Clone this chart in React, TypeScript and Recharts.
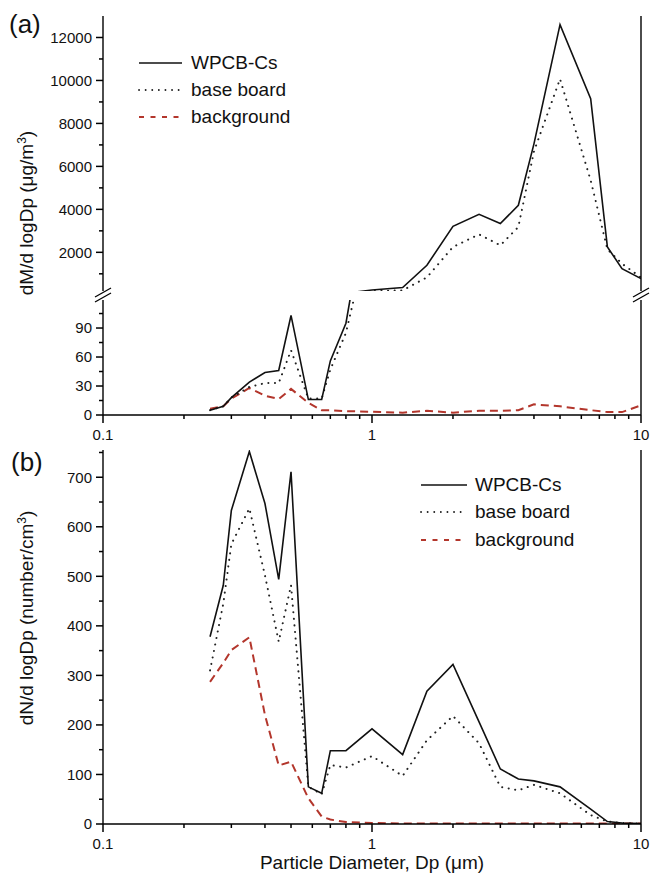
import { Legend, Line, LineChart, XAxis, YAxis } from 'recharts'

// Grimm OPC size channels (µm)
const diameters = [0.25, 0.28, 0.3, 0.35, 0.4, 0.45, 0.5, 0.58, 0.65, 0.7, 0.8, 1.0, 1.3, 1.6, 2.0, 2.5, 3.0, 3.5, 4.0, 5.0, 6.5, 7.5, 8.5, 10]

// (a) mass distribution, dM/dlogDp (µg/m3)
const massWpcb = [5, 9, 18, 34, 44, 46, 103, 16, 16, 56, 95, 250, 360, 1400, 3210, 3770, 3340, 4190, 7050, 12600, 9150, 2250, 1240, 780]
const massBase = [5, 9, 18, 29, 33, 33, 67, 17, 17, 47, 85, 200, 230, 835, 2250, 2835, 2325, 3180, 6700, 10070, 5350, 2140, 1470, 830]
const massBackground = [6.5, 9, 17, 28, 20, 16.5, 27, 12.5, 5, 5, 4, 3.4, 2.4, 4.4, 2.4, 4.4, 4.4, 5, 11, 9, 5, 3, 3, 10]

// (b) number distribution, dN/dlogDp (number/cm3)
const numWpcb = [378, 482, 633, 752, 647, 494, 711, 75, 62, 148, 148, 192, 140, 268, 322, 206, 111, 91, 87, 75, 30, 5, 2, 1]
const numBase = [310, 445, 565, 637, 502, 368, 482, 75, 60, 119, 114, 137, 97, 169, 218, 163, 75, 68, 79, 62, 18, 5, 2, 1]
const numBackground = [287, 325, 351, 377, 220, 118, 126, 52, 15, 9, 4, 2, 1, 1, 1, 1, 1, 1, 1, 1, 1, 1, 1, 1]

const xMajor = [0.1, 1, 10]
const xMinor = [0.2, 0.3, 0.4, 0.5, 0.6, 0.7, 0.8, 0.9, 2, 3, 4, 5, 6, 7, 8, 9]
const massUpperMajor = [2000, 4000, 6000, 8000, 10000, 12000]
const massUpperMinor = [1000, 3000, 5000, 7000, 9000, 11000]
const massLowerMajor = [0, 30, 60, 90]
const massLowerMinor = [15, 45, 75, 105]
const numMajor = [0, 100, 200, 300, 400, 500, 600, 700]
const numMinor = [50, 150, 250, 350, 450, 550, 650, 750]

const FONT = "'Liberation Sans', Arial, Helvetica, sans-serif"
const INK = '#000'
const axisLine = { stroke: INK, strokeWidth: 1.4 }
const tickText = { fontSize: 15, fill: '#111', fontFamily: FONT }

// plot geometry (page px) shared by the charts and the tick-mark overlay
const PLOT_L = 103
const PLOT_R = 641
const X_DOMAIN: [number, number] = [0.1, 10]
const segUpper = { top: 16, bottom: 291, domain: [200, 13000] as [number, number] }
const segLower = { top: 300, bottom: 415, domain: [0, 119] as [number, number] }
const segNum = { top: 450, bottom: 824, domain: [0, 755] as [number, number] }

const series = [
  { key: 'wpcb', name: 'WPCB-Cs', stroke: '#111', width: 1.6, dash: undefined as string | undefined, cap: 'butt' as const },
  { key: 'base', name: 'base board', stroke: '#222', width: 2, dash: '0.1 6.5', cap: 'round' as const },
  { key: 'bg', name: 'background', stroke: '#b3362c', width: 2, dash: '8 5', cap: 'butt' as const },
]

const massData = diameters.map((d, i) => ({ d, wpcb: massWpcb[i], base: massBase[i], bg: massBackground[i] }))
const numData = diameters.map((d, i) => ({ d, wpcb: numWpcb[i], base: numBase[i], bg: numBackground[i] }))

const tickX = (v: number) =>
  PLOT_L + ((Math.log10(v) - Math.log10(X_DOMAIN[0])) / (Math.log10(X_DOMAIN[1]) - Math.log10(X_DOMAIN[0]))) * (PLOT_R - PLOT_L)
const tickY = (v: number, s: { top: number; bottom: number; domain: [number, number] }) =>
  s.top + ((s.domain[1] - v) / (s.domain[1] - s.domain[0])) * (s.bottom - s.top)

function LegendBox({ sample, gap, row }: { sample: number; gap: number; row: number }) {
  return (
    <div style={{ fontFamily: FONT, fontSize: 19, color: '#111' }}>
      {series.map((s) => (
        <div key={s.key} style={{ display: 'flex', alignItems: 'center', height: row, whiteSpace: 'nowrap' }}>
          <svg width={sample} height={10} style={{ marginRight: gap }}>
            <line x1={1} y1={5} x2={sample - 1} y2={5} stroke={s.stroke} strokeWidth={s.key === 'wpcb' ? 1.4 : 1.8} strokeDasharray={s.key === 'bg' ? '5 6.5' : s.dash} strokeLinecap={s.cap} />
          </svg>
          <span>{s.name}</span>
        </div>
      ))}
    </div>
  )
}

function seriesLines() {
  return [...series].reverse().map((s) => (
    <Line
      key={s.key}
      xAxisId="main"
      yAxisId="main"
      type="linear"
      dataKey={s.key}
      name={s.name}
      stroke={s.stroke}
      strokeWidth={s.width}
      strokeDasharray={s.dash}
      strokeLinecap={s.cap}
      dot={false}
      activeDot={false}
      isAnimationActive={false}
    />
  ))
}

function ValueAxes(domain: [number, number], major: number[]) {
  return [
    <YAxis key="yM" yAxisId="main" type="number" domain={domain} allowDataOverflow ticks={major} interval={0} width={PLOT_L} stroke={INK} tickSize={7} tickMargin={4} tick={tickText} tickLine={false} axisLine={axisLine} />,
    <YAxis key="yr" yAxisId="r" orientation="right" domain={[0, 1]} width={1} stroke={INK} tick={false} tickLine={false} axisLine={axisLine} />,
  ]
}

function SizeAxis(height: number) {
  return (
    <XAxis xAxisId="main" dataKey="d" type="number" scale="log" domain={X_DOMAIN} allowDataOverflow ticks={xMajor} interval={0} height={height} stroke={INK} tickSize={8} tickMargin={6} tick={tickText} tickLine={false} axisLine={axisLine} />
  )
}

function TickMarks() {
  const y = (seg: typeof segUpper, vals: number[], len: number) =>
    vals.map((v) => {
      const py = tickY(v, seg)
      return <line key={`${seg.top}-${v}`} x1={PLOT_L - len} x2={PLOT_L} y1={py} y2={py} />
    })
  const x = (base: number, vals: number[], len: number) =>
    vals.map((v) => {
      const px = tickX(v)
      return <line key={`${base}-${v}`} x1={px} x2={px} y1={base} y2={base + len} />
    })
  return (
    <g stroke={INK} strokeWidth={1.5}>
      {y(segUpper, massUpperMajor, 7)}
      {y(segUpper, massUpperMinor, 4)}
      {y(segLower, massLowerMajor, 7)}
      {y(segLower, massLowerMinor, 4)}
      {y(segNum, numMajor, 7)}
      {y(segNum, numMinor, 4)}
      {x(segLower.bottom, xMajor, 8)}
      {x(segLower.bottom, xMinor, 4)}
      {x(segNum.bottom, xMajor, 8)}
      {x(segNum.bottom, xMinor, 4)}
    </g>
  )
}

export default function App() {
  return (
    <div style={{ position: 'absolute', left: 0, top: 0, width: 650, height: 875, background: '#fff', overflow: 'hidden' }}>
      {/* (a) upper segment of the broken axis */}
      <div style={{ position: 'absolute', left: 0, top: 0 }}>
        <LineChart width={650} height={segUpper.bottom} data={massData} margin={{ top: segUpper.top, right: 650 - PLOT_R - 1, bottom: 0, left: 0 }}>
          <XAxis xAxisId="main" dataKey="d" type="number" scale="log" domain={X_DOMAIN} allowDataOverflow hide />
          <XAxis xAxisId="top" orientation="top" type="number" scale="log" domain={X_DOMAIN} allowDataOverflow height={0} stroke={INK} tick={false} tickLine={false} axisLine={axisLine} />
          {ValueAxes(segUpper.domain, massUpperMajor)}
          {seriesLines()}
          <Legend
            layout="vertical"
            align="center"
            verticalAlign="middle"
            content={() => <LegendBox sample={45} gap={8} row={27} />}
            wrapperStyle={{ top: 49, left: 138, width: 'auto' }}
          />
        </LineChart>
      </div>

      {/* (a) lower segment */}
      <div style={{ position: 'absolute', left: 0, top: segLower.top - 4 }}>
        <LineChart width={650} height={150} data={massData} margin={{ top: 4, right: 650 - PLOT_R - 1, bottom: 0, left: 0 }}>
          {SizeAxis(150 - 4 - (segLower.bottom - segLower.top))}
          {ValueAxes(segLower.domain, massLowerMajor)}
          {seriesLines()}
        </LineChart>
      </div>

      {/* (b) */}
      <div style={{ position: 'absolute', left: 0, top: segNum.top - 4 }}>
        <LineChart width={650} height={875 - segNum.top + 4} data={numData} margin={{ top: 4, right: 650 - PLOT_R - 1, bottom: 0, left: 0 }}>
          {SizeAxis(875 - segNum.bottom)}
          {ValueAxes(segNum.domain, numMajor)}
          {seriesLines()}
          <Legend
            layout="vertical"
            align="center"
            verticalAlign="middle"
            content={() => <LegendBox sample={48} gap={7} row={27.5} />}
            wrapperStyle={{ top: 25, left: 420, width: 'auto' }}
          />
        </LineChart>
      </div>

      {/* tick marks, titles, panel letters and axis-break marks */}
      <svg width={650} height={875} style={{ position: 'absolute', left: 0, top: 0, pointerEvents: 'none' }} fontFamily={FONT} fill="#111">
        <TickMarks />
        <text x={9} y={33} fontSize={26}>(a)</text>
        <text x={11} y={471} fontSize={26}>(b)</text>
        <text transform="translate(33,213) rotate(-90)" textAnchor="middle" fontSize={19}>
          dM/d logDp (μg/m<tspan dy={-7} fontSize={12}>3</tspan>
          <tspan dy={7}>)</tspan>
        </text>
        <text transform="translate(33,618) rotate(-90)" textAnchor="middle" fontSize={19}>
          dN/d logDp (number/cm<tspan dy={-7} fontSize={12}>3</tspan>
          <tspan dy={7}>)</tspan>
        </text>
        <text x={372} y={869} textAnchor="middle" fontSize={19}>Particle Diameter, Dp (μm)</text>
        <g stroke={INK} strokeWidth={1.3}>
          <line x1={95} y1={297} x2={111} y2={288} />
          <line x1={95} y1={302} x2={111} y2={293} />
          <line x1={633} y1={297} x2={649} y2={288} />
          <line x1={633} y1={302} x2={649} y2={293} />
        </g>
      </svg>
    </div>
  )
}
